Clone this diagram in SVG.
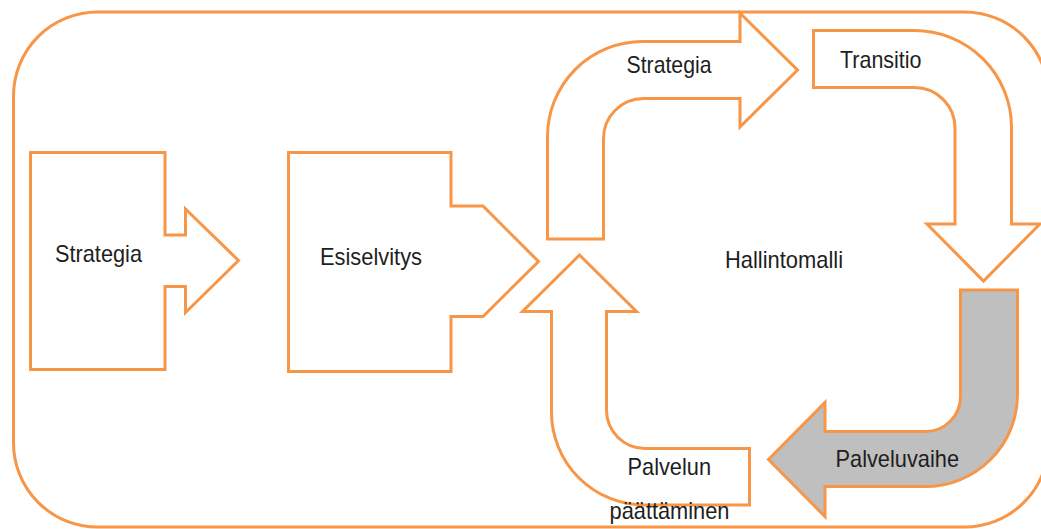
<svg xmlns="http://www.w3.org/2000/svg" width="1041" height="529" viewBox="0 0 1041 529">
<style>
.shape{fill:#ffffff;stroke:#F79646;stroke-width:3;stroke-linejoin:miter}
.gray{fill:#BFBFBF}
.lbl{font-family:"Liberation Sans",Arial,sans-serif;font-size:24px;fill:#1e1e1e}
</style>
<rect width="1041" height="529" fill="#ffffff"/>
<g id="container">
<rect x="13.5" y="12" width="1035" height="515" rx="84" ry="84" fill="none" stroke="#F79646" stroke-width="3"/>
</g>
<g id="node-strategia">
<path class="shape" d="M30.5,152.5 H165 V235 H185.5 V209 L238.5,260.5 L185.5,312.5 V286.5 H165 V369.5 H30.5 Z"/>
<text class="lbl" x="55" y="262" textLength="87" lengthAdjust="spacingAndGlyphs">Strategia</text>
</g>
<g id="node-esiselvitys">
<path class="shape" d="M288.5,152.5 H451 V206 H483 L538.5,261.5 L483,316.5 H451 V371.5 H288.5 Z"/>
<text class="lbl" x="320" y="265" textLength="102" lengthAdjust="spacingAndGlyphs">Esiselvitys</text>
</g>
<g id="node-strategia-cycle">
<path class="shape" d="M547.5,239 V136.5 A95,95 0 0 1 642.5,41.5 H740 V13 L797.5,70 L740,127 V98.5 H643.5 A40,40 0 0 0 603.5,138.5 V239 Z"/>
<text class="lbl" x="626.5" y="73" textLength="85" lengthAdjust="spacingAndGlyphs">Strategia</text>
</g>
<g id="node-transitio">
<path class="shape" d="M813.5,30.5 H914.5 A97,97 0 0 1 1011.5,127.5 V224 H1040 L983.5,281 L927,224 H955 V128 A40.5,40.5 0 0 0 914.5,87.5 H813.5 Z"/>
<text class="lbl" x="840" y="68" textLength="81.5" lengthAdjust="spacingAndGlyphs">Transitio</text>
</g>
<g id="node-palveluvaihe">
<path class="shape gray" d="M960.5,290 H1017.5 V394.5 A92,92 0 0 1 925.5,486.5 H825 V516.5 L768.5,459.5 L825,402.5 V431.5 H925.5 A35,35 0 0 0 960.5,396.5 Z"/>
<text class="lbl" x="835.5" y="467" textLength="123.5" lengthAdjust="spacingAndGlyphs">Palveluvaihe</text>
</g>
<g id="node-palvelun-paattaminen">
<path class="shape" d="M749.5,505 H644.5 A93,93 0 0 1 551.5,412 V311.5 H522.5 L579.5,255 L636.5,311.5 H606.5 V410 A38.5,38.5 0 0 0 645,448.5 H749.5 Z"/>
<text class="lbl" x="627.5" y="475" textLength="83.5" lengthAdjust="spacingAndGlyphs">Palvelun</text>
<text class="lbl" x="609.5" y="519" textLength="120" lengthAdjust="spacingAndGlyphs">päättäminen</text>
</g>
<g id="node-hallintomalli">
<text class="lbl" x="725" y="268" textLength="118" lengthAdjust="spacingAndGlyphs">Hallintomalli</text>
</g>
<g id="connectors"/>
</svg>
